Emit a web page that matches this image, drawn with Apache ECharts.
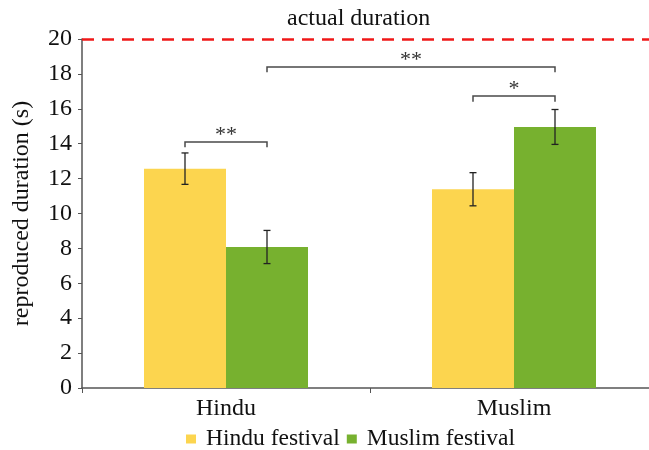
<!DOCTYPE html>
<html>
<head>
<meta charset="utf-8">
<script src="https://cdn.jsdelivr.net/npm/echarts@6/dist/echarts.min.js"></script>
<style>
  html, body { margin: 0; padding: 0; background: #fff; }
  #chart { width: 649px; height: 450px; }
</style>
</head>
<body>
<div id="chart"></div>
<script>
// data
const categories = ['Hindu', 'Muslim'];
const hinduFestival = [12.57, 11.39];
const muslimFestival = [8.08, 14.96];
const hinduErr = [0.9, 0.95];
const muslimErr = [0.95, 1.0];
const actualDuration = 20;
const yTicks = { min: 0, max: 20, interval: 2 };

// significance brackets: [fromCat, fromSide, toCat, toSide, lineY, dropY]
const bracketFrom = [[0, -1], [0, 1], [1, -1]];
const bracketTo = [[0, 1], [1, 1], [1, 1]];
const bracketY = [14.1, 18.4, 16.73];
const bracketDrop = [13.8, 18.1, 16.4];
const bracketLabels = ['**', '**', '*'];

const BAR_W = 82;
const FONT = '"Liberation Serif", "DejaVu Serif", serif';
const YELLOW = '#FCD54F';
const GREEN = '#77B12F';

const chart = echarts.init(document.getElementById('chart'));

const errData = [];
categories.forEach((c, i) => {
  errData.push([i, -1, hinduFestival[i], hinduErr[i]]);
  errData.push([i, 1, muslimFestival[i], muslimErr[i]]);
});

const bracketData = bracketLabels.map((lab, i) => [
  bracketFrom[i][0], bracketFrom[i][1], bracketTo[i][0], bracketTo[i][1],
  bracketY[i], bracketDrop[i], lab
]);

const option = {
  animation: false,
  title: {
    text: 'actual duration',
    left: 282,
    top: 2,
    textStyle: { fontFamily: FONT, fontSize: 24, fontWeight: 'normal', color: '#111' }
  },
  legend: {
    data: ['Hindu festival', 'Muslim festival'],
    left: 181,
    top: 422,
    itemWidth: 10,
    itemHeight: 9,
    itemGap: 7,
    icon: 'rect',
    textStyle: { fontFamily: FONT, fontSize: 23.5, color: '#111', padding: [0, 0, 0, 5] }
  },
  grid: { left: 82, top: 39, width: 576, bottom: 62, outerBoundsMode: 'none' },
  xAxis: {
    type: 'category',
    data: categories,
    axisLine: { lineStyle: { color: '#555', width: 1.5 } },
    axisTick: { show: true, length: 5, lineStyle: { color: '#555' } },
    axisLabel: { fontFamily: FONT, fontSize: 24, color: '#111', margin: 9 }
  },
  yAxis: {
    type: 'value',
    min: yTicks.min,
    max: yTicks.max,
    interval: yTicks.interval,
    name: 'reproduced duration (s)',
    nameLocation: 'middle',
    nameGap: 48,
    nameTextStyle: { fontFamily: FONT, fontSize: 24, color: '#111' },
    splitLine: { show: false },
    axisLine: { show: true, lineStyle: { color: '#555', width: 1.5 } },
    axisTick: { show: true, length: 4, lineStyle: { color: '#555' } },
    axisLabel: { fontFamily: FONT, fontSize: 24, color: '#111', margin: 10 }
  },
  series: [
    {
      name: 'Hindu festival',
      type: 'bar',
      data: hinduFestival,
      barWidth: BAR_W,
      barGap: '0%',
      itemStyle: { color: YELLOW },
      markLine: {
        silent: true,
        symbol: 'none',
        label: { show: false },
        lineStyle: { color: '#F01818', type: [12, 8], width: 2.5 },
        data: [{ yAxis: actualDuration }]
      }
    },
    {
      name: 'Muslim festival',
      type: 'bar',
      data: muslimFestival,
      barWidth: BAR_W,
      itemStyle: { color: GREEN }
    },
    {
      // error bars
      type: 'custom',
      data: errData,
      z: 5,
      renderItem: function (params, api) {
        const x = api.coord([api.value(0), 0])[0] + api.value(1) * BAR_W / 2;
        const v = api.value(2), e = api.value(3);
        const yTop = api.coord([api.value(0), v + e])[1];
        const yBot = api.coord([api.value(0), v - e])[1];
        const st = { stroke: '#222', lineWidth: 1.3 };
        return {
          type: 'group',
          children: [
            { type: 'line', shape: { x1: x, y1: yTop, x2: x, y2: yBot }, style: st },
            { type: 'line', shape: { x1: x - 3.5, y1: yTop, x2: x + 3.5, y2: yTop }, style: st },
            { type: 'line', shape: { x1: x - 3.5, y1: yBot, x2: x + 3.5, y2: yBot }, style: st }
          ]
        };
      }
    },
    {
      // significance brackets
      type: 'custom',
      data: bracketData,
      z: 5,
      renderItem: function (params, api) {
        const x1 = api.coord([api.value(0), 0])[0] + api.value(1) * BAR_W / 2;
        const x2 = api.coord([api.value(2), 0])[0] + api.value(3) * BAR_W / 2;
        const yl = api.coord([0, api.value(4)])[1];
        const yd = api.coord([0, api.value(5)])[1];
        const lab = bracketLabels[params.dataIndex];
        return {
          type: 'group',
          children: [
            {
              type: 'polyline',
              shape: { points: [[x1, yd], [x1, yl], [x2, yl], [x2, yd]] },
              style: { stroke: '#4a4a4a', lineWidth: 1.5, fill: null }
            },
            {
              type: 'text',
              style: {
                text: lab, x: (x1 + x2) / 2, y: yl + 4,
                align: 'center', verticalAlign: 'bottom',
                fontFamily: FONT, fontSize: 22, fill: '#333'
              }
            }
          ]
        };
      }
    }
  ]
};

chart.setOption(option);
</script>
</body>
</html>
